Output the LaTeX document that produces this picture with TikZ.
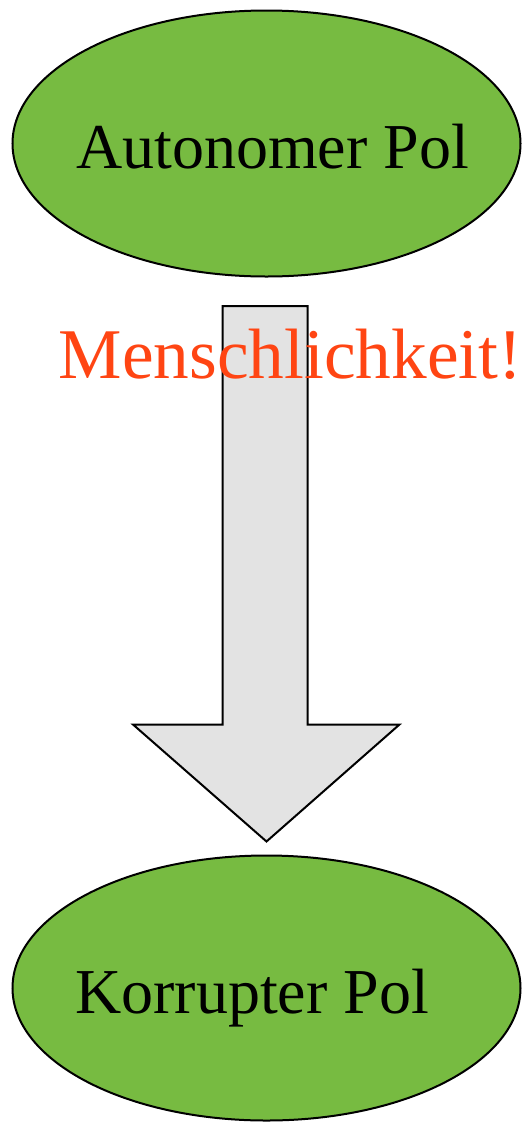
\documentclass[tikz,border=0pt]{standalone}
\usepackage{fontspec}
\setmainfont{Liberation Serif}
\usetikzlibrary{shapes.geometric}
\definecolor{polgreen}{RGB}{119,187,65}
\definecolor{arrowgrey}{RGB}{227,227,227}
\definecolor{humred}{RGB}{255,69,19}
\begin{document}
\begin{tikzpicture}[x=1pt,y=-1pt,
  pol/.style={ellipse,draw=black,line width=2pt,fill=polgreen,inner sep=0pt},
  label/.style={inner sep=0pt,anchor=base west},
  bigarrow/.style={draw=black,line width=2pt,fill=arrowgrey,line join=miter}]
\useasboundingbox (0,0) rectangle (522,1122);
\node[pol,minimum width=508pt,minimum height=266pt] (top) at (266.5,143.5) {};
\node[pol,minimum width=508pt,minimum height=265pt] (bot) at (266.5,988) {};
\node[label,font=\fontsize{64}{64}\selectfont] (ttop) at (76,168) {Autonomer Pol};
\node[label,font=\fontsize{64}{64}\selectfont] (tbot) at (75,1013) {Korrupter Pol};
\coordinate (s1) at (222.5,306);
\coordinate (s2) at (307.5,306);
\coordinate (s3) at (307.5,724.5);
\coordinate (h1) at (399.5,724.5);
\coordinate (tip) at (266.5,841.5);
\coordinate (h2) at (133,724.5);
\coordinate (s4) at (222.5,724.5);
\draw[bigarrow] (s1) -- (s2) -- (s3) -- (h1) -- (tip) -- (h2) -- (s4) -- cycle;
\node[label,text=humred,font=\fontsize{71.3}{71.3}\selectfont] (hum) at (58.5,378) {Menschlichkeit!};
\end{tikzpicture}
\end{document}
